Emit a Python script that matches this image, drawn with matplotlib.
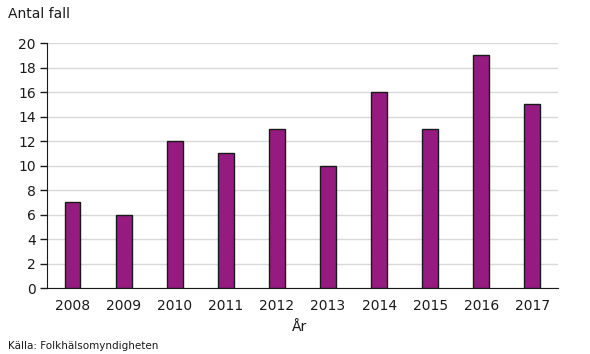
import matplotlib
matplotlib.use("Agg")
import matplotlib.pyplot as plt

years = ["2008", "2009", "2010", "2011", "2012", "2013", "2014", "2015", "2016", "2017"]
cases = [7, 6, 12, 11, 13, 10, 16, 13, 19, 15]
yticks = [0, 2, 4, 6, 8, 10, 12, 14, 16, 18, 20]

plt.rcParams['font.family'] = ['DejaVu Sans']
fig = plt.figure(figsize=(5.9, 3.54), dpi=100)
ax = fig.add_axes([0.0797, 0.1864, 0.866, 0.692])

x = range(len(years))
ax.bar(x, cases, width=0.31, color="#951B81", edgecolor="#1a1a1a", linewidth=1, zorder=3)
ax.set_xlim(-0.5, len(years) - 0.5)
ax.set_ylim(0, 20)
ax.set_yticks(yticks)
ax.set_xticks(list(x))
ax.set_xticklabels(years)
ax.tick_params(axis='x', length=0, pad=8, labelsize=10, colors="#1a1a1a")
ax.tick_params(axis='y', length=5, width=1, pad=3, labelsize=10, colors="#1a1a1a")
ax.grid(axis='y', color="#d9d9d9", linewidth=1, zorder=0)
for s in ["top", "right"]:
    ax.spines[s].set_visible(False)
ax.spines["left"].set_color("#1a1a1a")
ax.spines["bottom"].set_color("#1a1a1a")

fig.text(8/590, 1 - 14/354, "Antal fall", fontsize=10, va="center", ha="left", color="#1a1a1a")
fig.text(300/590, 1 - 327/354, "År", fontsize=10, va="center", ha="center", color="#1a1a1a")
fig.text(8/590, 1 - 346/354, "Källa: Folkhälsomyndigheten", fontsize=7.5, va="center", ha="left", color="#1a1a1a")

fig.savefig("out.png", dpi=100)
